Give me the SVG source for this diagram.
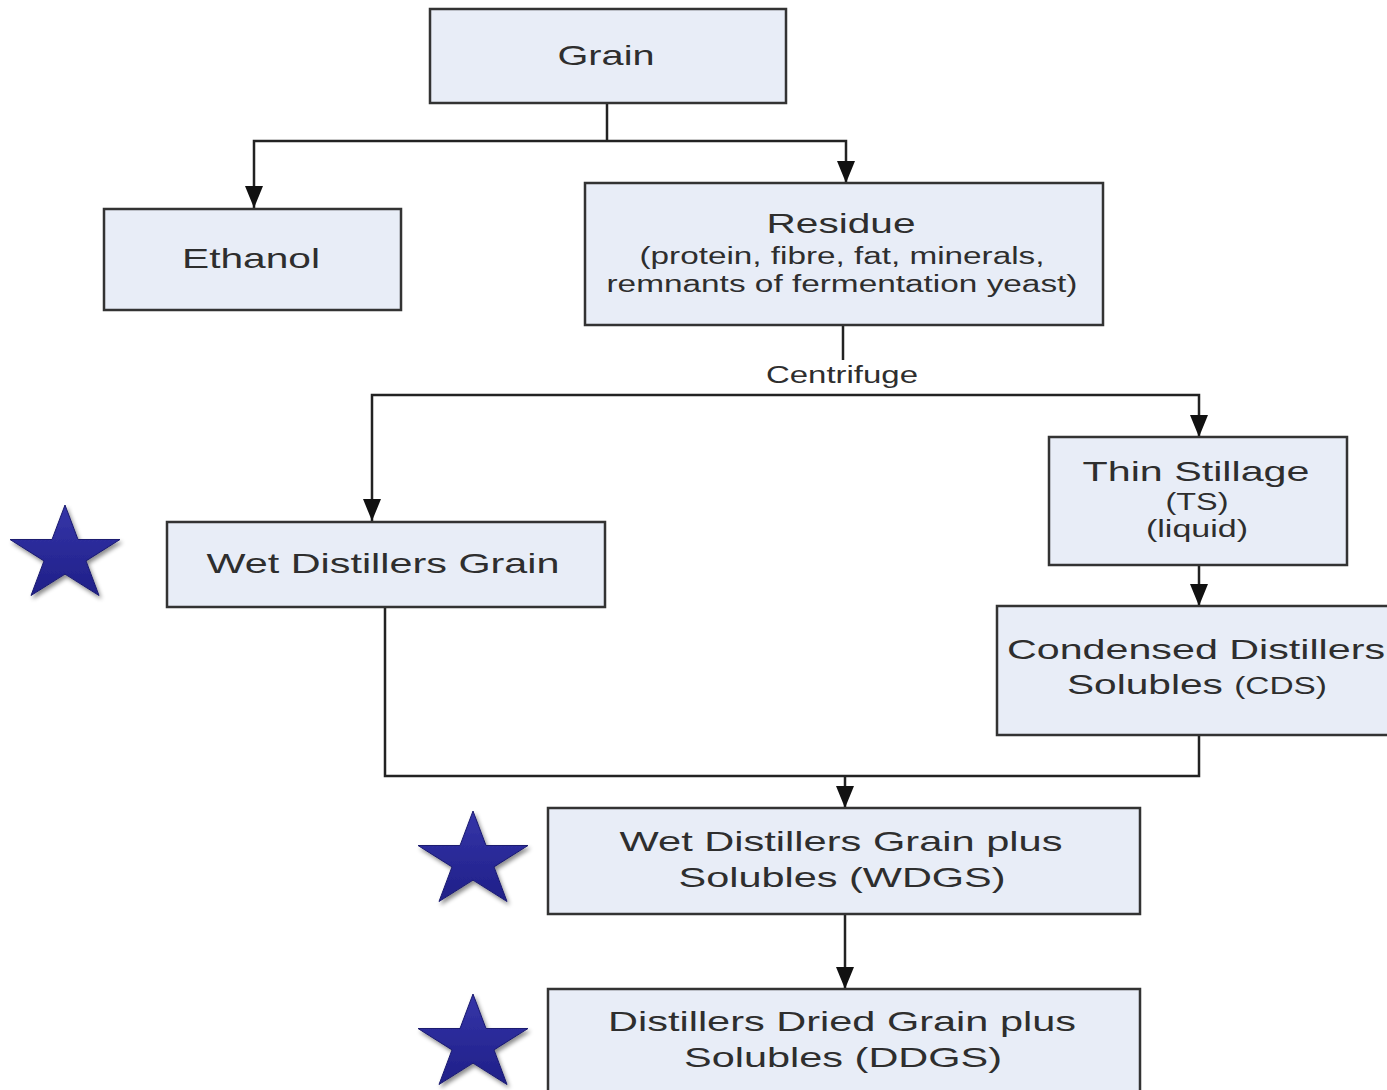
<svg xmlns="http://www.w3.org/2000/svg" width="1387" height="1090" viewBox="0 0 1387 1090">
<defs>
<style>
.box{fill:#e8edf7;stroke:#333;stroke-width:2.5}
.t{font-family:"Liberation Sans",Arial,sans-serif;fill:#2e2e2e;text-anchor:middle}
.big{font-size:28px}
.sm{font-size:23px}
.ln{fill:none;stroke:#222;stroke-width:2.5}
</style>
<marker id="ah" markerUnits="userSpaceOnUse" markerWidth="22" markerHeight="18" viewBox="0 0 22 18" refX="22" refY="9" orient="auto">
<path d="M0,0 L22,9 L0,18 z" fill="#111"/>
</marker>
<linearGradient id="sg" x1="0" y1="0" x2="0" y2="1">
<stop offset="0" stop-color="#3535a8"/>
<stop offset="1" stop-color="#1f1f88"/>
</linearGradient>
<filter id="sh" x="-20%" y="-20%" width="150%" height="150%">
<feDropShadow dx="2" dy="3" stdDeviation="2" flood-color="#000" flood-opacity="0.45"/>
</filter>
<polygon id="star" points="0,-50 13,-15.5 55,-15.5 21,5.9 34,40.5 0,19.1 -34,40.5 -21,5.9 -55,-15.5 -13,-15.5" fill="url(#sg)" stroke="#1a1a70" stroke-width="1" filter="url(#sh)"/>
</defs>
<rect width="1387" height="1090" fill="#fff"/>

<g id="connectors">
<polyline class="ln" points="607,103 607,141"/>
<polyline class="ln" points="607,141 254,141 254,208" marker-end="url(#ah)"/>
<polyline class="ln" points="607,141 846,141 846,183" marker-end="url(#ah)"/>
<polyline class="ln" points="843,325 843,360"/>
<polyline class="ln" points="843,395 372,395 372,521" marker-end="url(#ah)"/>
<polyline class="ln" points="843,395 1199,395 1199,437" marker-end="url(#ah)"/>
<polyline class="ln" points="1199,565 1199,606" marker-end="url(#ah)"/>
<polyline class="ln" points="385,607 385,776 1199,776 1199,735"/>
<polyline class="ln" points="845,776 845,808" marker-end="url(#ah)"/>
<polyline class="ln" points="845,914 845,989" marker-end="url(#ah)"/>
<text class="t sm" x="842" y="383" textLength="152" lengthAdjust="spacingAndGlyphs">Centrifuge</text>
</g>

<g id="grain">
<rect class="box" x="430" y="9" width="356" height="94"/>
<text class="t big" x="606" y="65" textLength="97" lengthAdjust="spacingAndGlyphs">Grain</text>
</g>
<g id="ethanol">
<rect class="box" x="104" y="209" width="297" height="101"/>
<text class="t big" x="251" y="268" textLength="138" lengthAdjust="spacingAndGlyphs">Ethanol</text>
</g>
<g id="residue">
<rect class="box" x="585" y="183" width="518" height="142"/>
<text class="t big" x="841" y="233" textLength="149" lengthAdjust="spacingAndGlyphs">Residue</text>
<text class="t sm" x="842" y="264" textLength="405" lengthAdjust="spacingAndGlyphs">(protein, fibre, fat, minerals,</text>
<text class="t sm" x="842" y="292" textLength="471" lengthAdjust="spacingAndGlyphs">remnants of fermentation yeast)</text>
</g>
<g id="thin-stillage">
<rect class="box" x="1049" y="437" width="298" height="128"/>
<text class="t big" x="1196" y="481" textLength="227" lengthAdjust="spacingAndGlyphs">Thin Stillage</text>
<text class="t sm" x="1197" y="510" textLength="63" lengthAdjust="spacingAndGlyphs">(TS)</text>
<text class="t sm" x="1197" y="537" textLength="102" lengthAdjust="spacingAndGlyphs">(liquid)</text>
</g>
<g id="wet-distillers-grain">
<rect class="box" x="167" y="522" width="438" height="85"/>
<text class="t big" x="383" y="573" textLength="353" lengthAdjust="spacingAndGlyphs">Wet Distillers Grain</text>
</g>
<g id="cds">
<rect class="box" x="997" y="606" width="400" height="129"/>
<text class="t big" x="1196" y="659" textLength="378" lengthAdjust="spacingAndGlyphs">Condensed Distillers</text>
<text class="t big" x="1197" y="694" textLength="260" lengthAdjust="spacingAndGlyphs">Solubles <tspan style="font-size:23px">(CDS)</tspan></text>
</g>
<g id="wdgs">
<rect class="box" x="548" y="808" width="592" height="106"/>
<text class="t big" x="841" y="851" textLength="443" lengthAdjust="spacingAndGlyphs">Wet Distillers Grain plus</text>
<text class="t big" x="842" y="887" textLength="327" lengthAdjust="spacingAndGlyphs">Solubles (WDGS)</text>
</g>
<g id="ddgs">
<rect class="box" x="548" y="989" width="592" height="110"/>
<text class="t big" x="842" y="1031" textLength="468" lengthAdjust="spacingAndGlyphs">Distillers Dried Grain plus</text>
<text class="t big" x="843" y="1067" textLength="318" lengthAdjust="spacingAndGlyphs">Solubles (DDGS)</text>
</g>

<g id="stars">
<use href="#star" x="65" y="555"/>
<use href="#star" x="473" y="861"/>
<use href="#star" x="473" y="1044"/>
</g>
</svg>
